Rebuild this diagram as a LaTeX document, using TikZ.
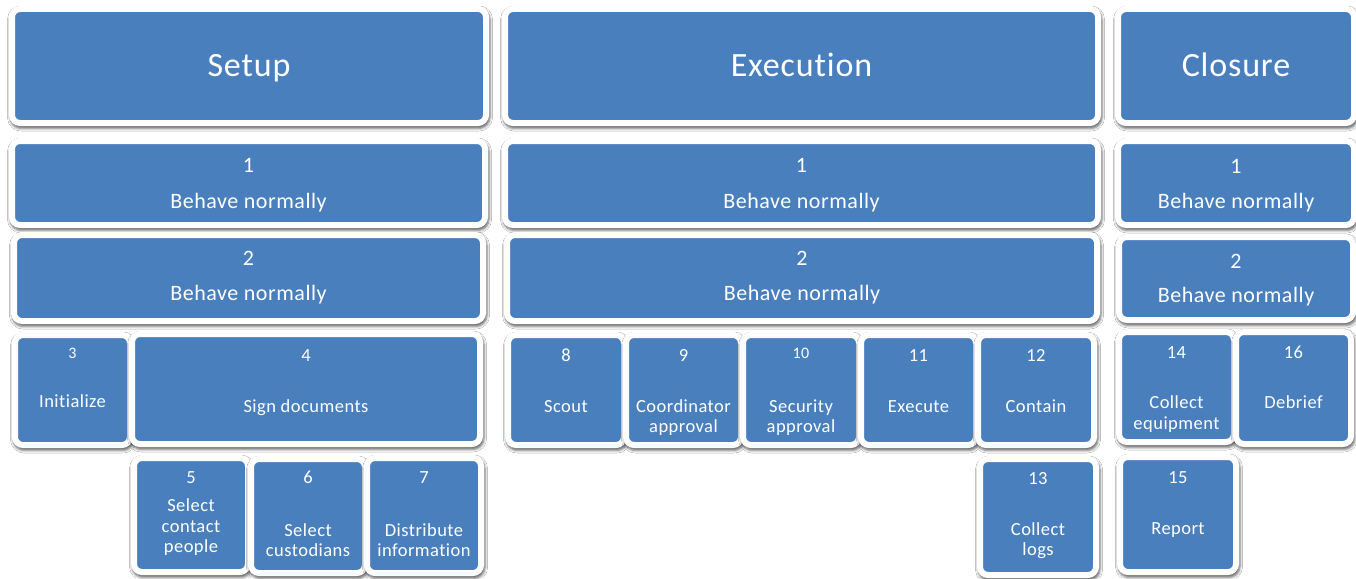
\documentclass[tikz,border=0pt]{standalone}
\usepackage{fontspec}
\setmainfont{Carlito}[Ligatures=NoCommon, LetterSpace=2.5]
\usetikzlibrary{shadows.blur}
\definecolor{boxblue}{RGB}{74,127,189}
\tikzset{
  pbox/.style={rectangle, rounded corners=8pt, fill=boxblue, draw=white, line width=6pt, inner sep=0pt},
  pshadow/.style={rounded corners=11pt, blur shadow={shadow xshift=1pt, shadow yshift=-2.5pt, shadow blur radius=2.5pt, shadow opacity=60}},
  txt/.style={text=white, anchor=base, inner sep=0pt},
  ttl/.style={txt, font=\fontsize{34}{40}\selectfont},
  big/.style={txt, font=\fontsize{22}{26}\selectfont},
  sml/.style={txt, font=\fontsize{18.5}{21}\selectfont},
  tiny/.style={txt, font=\fontsize{16}{19}\selectfont},
}
\newcommand\pb[5]{%
  \path[pshadow] ({#2-6},{#3-6}) rectangle ({#4+6},{#5+6});
  \node[pbox, minimum width={(#4-#2+6)*1pt}, minimum height={(#5-#3+6)*1pt}] (#1) at ({(#2+#4)/2},{(#3+#5)/2}) {};}
\begin{document}
\begin{tikzpicture}[x=1pt,y=-1pt]
\fill[white] (0,0) rectangle (1356,578);
\useasboundingbox (0,0) rectangle (1356,578);
% headers
\pb{setup}{15}{12}{483}{120}
\pb{exec}{508}{12}{1095}{120}
\pb{clos}{1121}{12}{1351}{120}
\node[ttl] (tsetup) at (249,76) {Setup};
\node[ttl] (texec) at (801.5,76) {Execution};
\node[ttl] (tclos) at (1236,76) {Closure};
% row 1
\pb{s1}{15}{144}{482}{222}
\pb{e1}{508}{144}{1095}{222}
\pb{c1}{1121}{144}{1351}{222}
\node[big] (s1n) at (248.5,172) {1};
\node[big] (s1t) at (248.5,208) {Behave normally};
\node[big] (e1n) at (801.5,172) {1};
\node[big] (e1t) at (801.5,208) {Behave normally};
\node[big] (c1n) at (1236,173) {1};
\node[big] (c1t) at (1236,208) {Behave normally};
% row 2
\pb{s2}{17}{238}{480}{318}
\pb{e2}{510}{238}{1094}{318}
\pb{c2}{1122}{240}{1350}{317}
\node[big] (s2n) at (248.5,265) {2};
\node[big] (s2t) at (248.5,300) {Behave normally};
\node[big] (e2n) at (802,265) {2};
\node[big] (e2t) at (802,300) {Behave normally};
\node[big] (c2n) at (1236,268) {2};
\node[big] (c2t) at (1236,302) {Behave normally};
% setup tasks
\pb{b3}{18}{338}{127}{442}
\pb{b4}{135}{337}{477}{441}
\pb{b5}{137}{461}{245}{569}
\pb{b6}{254}{462}{362}{570}
\pb{b7}{370}{461}{478}{570}
\node[tiny] (n3) at (72.5,358) {3};
\node[sml] (t3) at (72.5,407) {Initialize};
\node[sml] (n4) at (306,361) {4};
\node[sml] (t4) at (306,412) {Sign documents};
\node[sml] (n5) at (191,483) {5};
\node[sml] (t5a) at (191,511) {Select};
\node[sml] (t5b) at (191,532) {contact};
\node[sml] (t5c) at (191,552) {people};
\node[sml] (n6) at (308,483) {6};
\node[sml] (t6a) at (308,536) {Select};
\node[sml] (t6b) at (308,556) {custodians};
\node[sml] (n7) at (424,483) {7};
\node[sml] (t7a) at (424,536) {Distribute};
\node[sml] (t7b) at (424,556) {information};
% execution tasks
\pb{b8}{511}{338}{621}{442}
\pb{b9}{629}{338}{738}{442}
\pb{b10}{746}{338}{856}{442}
\pb{b11}{864}{338}{973}{442}
\pb{b12}{981}{338}{1091}{442}
\pb{b13}{983}{462}{1093}{572}
\node[sml] (n8) at (566,361) {8};
\node[sml] (t8) at (566,412) {Scout};
\node[sml] (n9) at (683.5,361) {9};
\node[sml] (t9a) at (683.5,412) {Coordinator};
\node[sml] (t9b) at (683.5,432) {approval};
\node[tiny] (n10) at (801,358) {10};
\node[sml] (t10a) at (801,412) {Security};
\node[sml] (t10b) at (801,432) {approval};
\node[sml] (n11) at (918.5,361) {11};
\node[sml] (t11) at (918.5,412) {Execute};
\node[sml] (n12) at (1036,361) {12};
\node[sml] (t12) at (1036,412) {Contain};
\node[sml] (n13) at (1038,484) {13};
\node[sml] (t13a) at (1038,535) {Collect};
\node[sml] (t13b) at (1038,555) {logs};
% closure tasks
\pb{b14}{1122}{335}{1231}{439}
\pb{b16}{1239}{335}{1348}{441}
\pb{b15}{1123}{460}{1233}{569}
\node[sml] (n14) at (1176.5,358) {14};
\node[sml] (t14a) at (1176.5,408) {Collect};
\node[sml] (t14b) at (1176.5,429) {equipment};
\node[sml] (n16) at (1293.5,358) {16};
\node[sml] (t16) at (1293.5,408) {Debrief};
\node[sml] (n15) at (1178,483) {15};
\node[sml] (t15) at (1178,534) {Report};
\end{tikzpicture}
\end{document}
